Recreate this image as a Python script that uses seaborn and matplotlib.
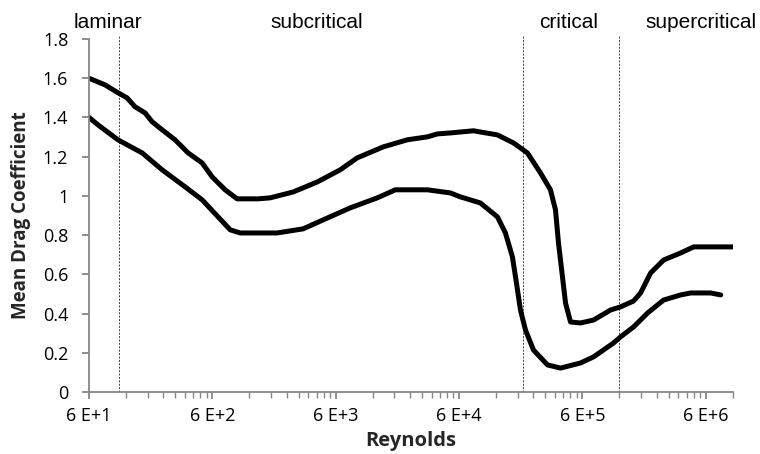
import numpy as np
import pandas as pd
import matplotlib
matplotlib.use("Agg")
import matplotlib.pyplot as plt
from matplotlib.ticker import FixedLocator, NullFormatter
import seaborn as sns

# Upper bound of the mean drag coefficient versus Reynolds number
re_upper = [60, 81, 103, 122, 142, 171, 195, 235, 299, 382, 496, 598, 762, 953,
            1413, 1767, 2716, 4255, 6535, 8980, 14600, 22870, 33270, 40090, 51100,
            78560, 123000, 166000, 215400, 274800, 331000, 363600, 384600, 414300,
            438500, 481500, 580000, 739600, 1016000, 1225000, 1563000, 1781000,
            2148000, 2738000, 3761000, 4797000, 9940000]
cd_upper = [1.60, 1.566, 1.526, 1.500, 1.454, 1.423, 1.378, 1.337, 1.286, 1.219,
            1.168, 1.097, 1.031, 0.985, 0.985, 0.990, 1.020, 1.071, 1.133, 1.194,
            1.250, 1.286, 1.301, 1.316, 1.321, 1.332, 1.311, 1.270, 1.219, 1.117,
            1.031, 0.929, 0.760, 0.587, 0.454, 0.357, 0.352, 0.367, 0.418, 0.434,
            0.464, 0.505, 0.607, 0.673, 0.709, 0.740, 0.740]

# Lower bound of the mean drag coefficient versus Reynolds number
re_lower = [60, 71, 103, 162, 235, 361, 496, 668, 837, 1009, 2014, 3274, 4760,
            7890, 13060, 18280, 33270, 51100, 61530, 89500, 123000, 142800, 162700,
            175400, 189100, 207700, 241200, 313400, 399600, 580000, 739600, 1075000,
            1225000, 1563000, 2031000, 2738000, 3761000, 4538000, 6592000, 7950000]
cd_lower = [1.40, 1.362, 1.286, 1.219, 1.133, 1.046, 0.980, 0.893, 0.827, 0.811,
            0.811, 0.832, 0.878, 0.939, 0.990, 1.031, 1.031, 1.015, 0.995, 0.964,
            0.893, 0.811, 0.689, 0.556, 0.418, 0.316, 0.214, 0.138, 0.122, 0.148,
            0.179, 0.250, 0.281, 0.332, 0.403, 0.469, 0.495, 0.505, 0.505, 0.495]

# Flow regime boundaries and names
regime_bounds = [105, 2.0e5, 1.2e6]
regime_names = ["laminar", "subcritical", "critical", "supercritical"]
regime_label_x = [85, 4.2e3, 4.67e5, 5.5e6]

x_ticks = [6e1, 6e2, 6e3, 6e4, 6e5, 6e6]
x_tick_labels = ["6 E+1", "6 E+2", "6 E+3", "6 E+4", "6 E+5", "6 E+6"]
y_ticks = [0, 0.2, 0.4, 0.6, 0.8, 1.0, 1.2, 1.4, 1.6, 1.8]
y_tick_labels = ["0", "0.2", "0.4", "0.6", "0.8", "1", "1.2", "1.4", "1.6", "1.8"]

sns.set_theme(style="white")
plt.rcParams["font.family"] = ["Open Sans", "DejaVu Sans"]

fig = plt.figure(figsize=(7.6, 4.54), dpi=100)
ax = fig.add_axes([89 / 760, 1 - 392 / 454, (733 - 89) / 760, (392 - 39) / 454])

upper = pd.DataFrame({"Re": re_upper, "Cd": cd_upper})
lower = pd.DataFrame({"Re": re_lower, "Cd": cd_lower})
sns.lineplot(data=upper, x="Re", y="Cd", ax=ax, color="black", linewidth=3.6,
             sort=False, solid_joinstyle="round", solid_capstyle="round")
sns.lineplot(data=lower, x="Re", y="Cd", ax=ax, color="black", linewidth=3.6,
             sort=False, solid_joinstyle="round", solid_capstyle="round")

ax.set_xscale("log")
ax.set_xlim(60, 1.0e7)
ax.set_ylim(0, 1.8)

for xb in regime_bounds:
    ax.plot([xb, xb], [0, 1.82], color="#404040", linewidth=0.7,
            linestyle=(0, (2, 1.5)), clip_on=False, zorder=1)

for name, xl in zip(regime_names, regime_label_x):
    ax.text(xl, 1.856, name, ha="center", va="baseline", fontsize=15,
            family=["Liberation Sans", "DejaVu Sans"], color="black")

# Major ticks every decade starting at 60, minor ticks at multiples of 60
minor = []
for base in x_ticks:
    for k in range(2, 10):
        v = base * k
        if v < 1.0e7:
            minor.append(v)
minor.append(1.0e7)
ax.xaxis.set_major_locator(FixedLocator(x_ticks))
ax.xaxis.set_minor_locator(FixedLocator(minor))
ax.xaxis.set_minor_formatter(NullFormatter())
ax.set_xticklabels(x_tick_labels)
ax.set_yticks(y_ticks)
ax.set_yticklabels(y_tick_labels)

axis_gray = "#868686"
for side in ["top", "right"]:
    ax.spines[side].set_visible(False)
for side in ["left", "bottom"]:
    ax.spines[side].set_color(axis_gray)
    ax.spines[side].set_linewidth(1.3)

ax.tick_params(axis="both", which="major", direction="out", length=5, width=1.3,
               color=axis_gray, labelsize=13, labelcolor="black",
               bottom=True, left=True)
ax.tick_params(axis="x", which="minor", direction="out", length=4, width=1.0,
               color=axis_gray, bottom=True)
ax.tick_params(axis="x", which="major", pad=6)
ax.tick_params(axis="y", which="major", pad=10)

ax.set_xlabel("Reynolds", fontsize=14.5, fontweight="bold", va="center")
ax.xaxis.set_label_coords(0.499, -0.1388)
ax.set_ylabel("Mean Drag Coefficient", fontsize=13.5, fontweight="bold", va="center")
ax.yaxis.set_label_coords(-0.1056, 0.5)
ax.grid(False)

fig.savefig("out.png", dpi=100, facecolor="white")
